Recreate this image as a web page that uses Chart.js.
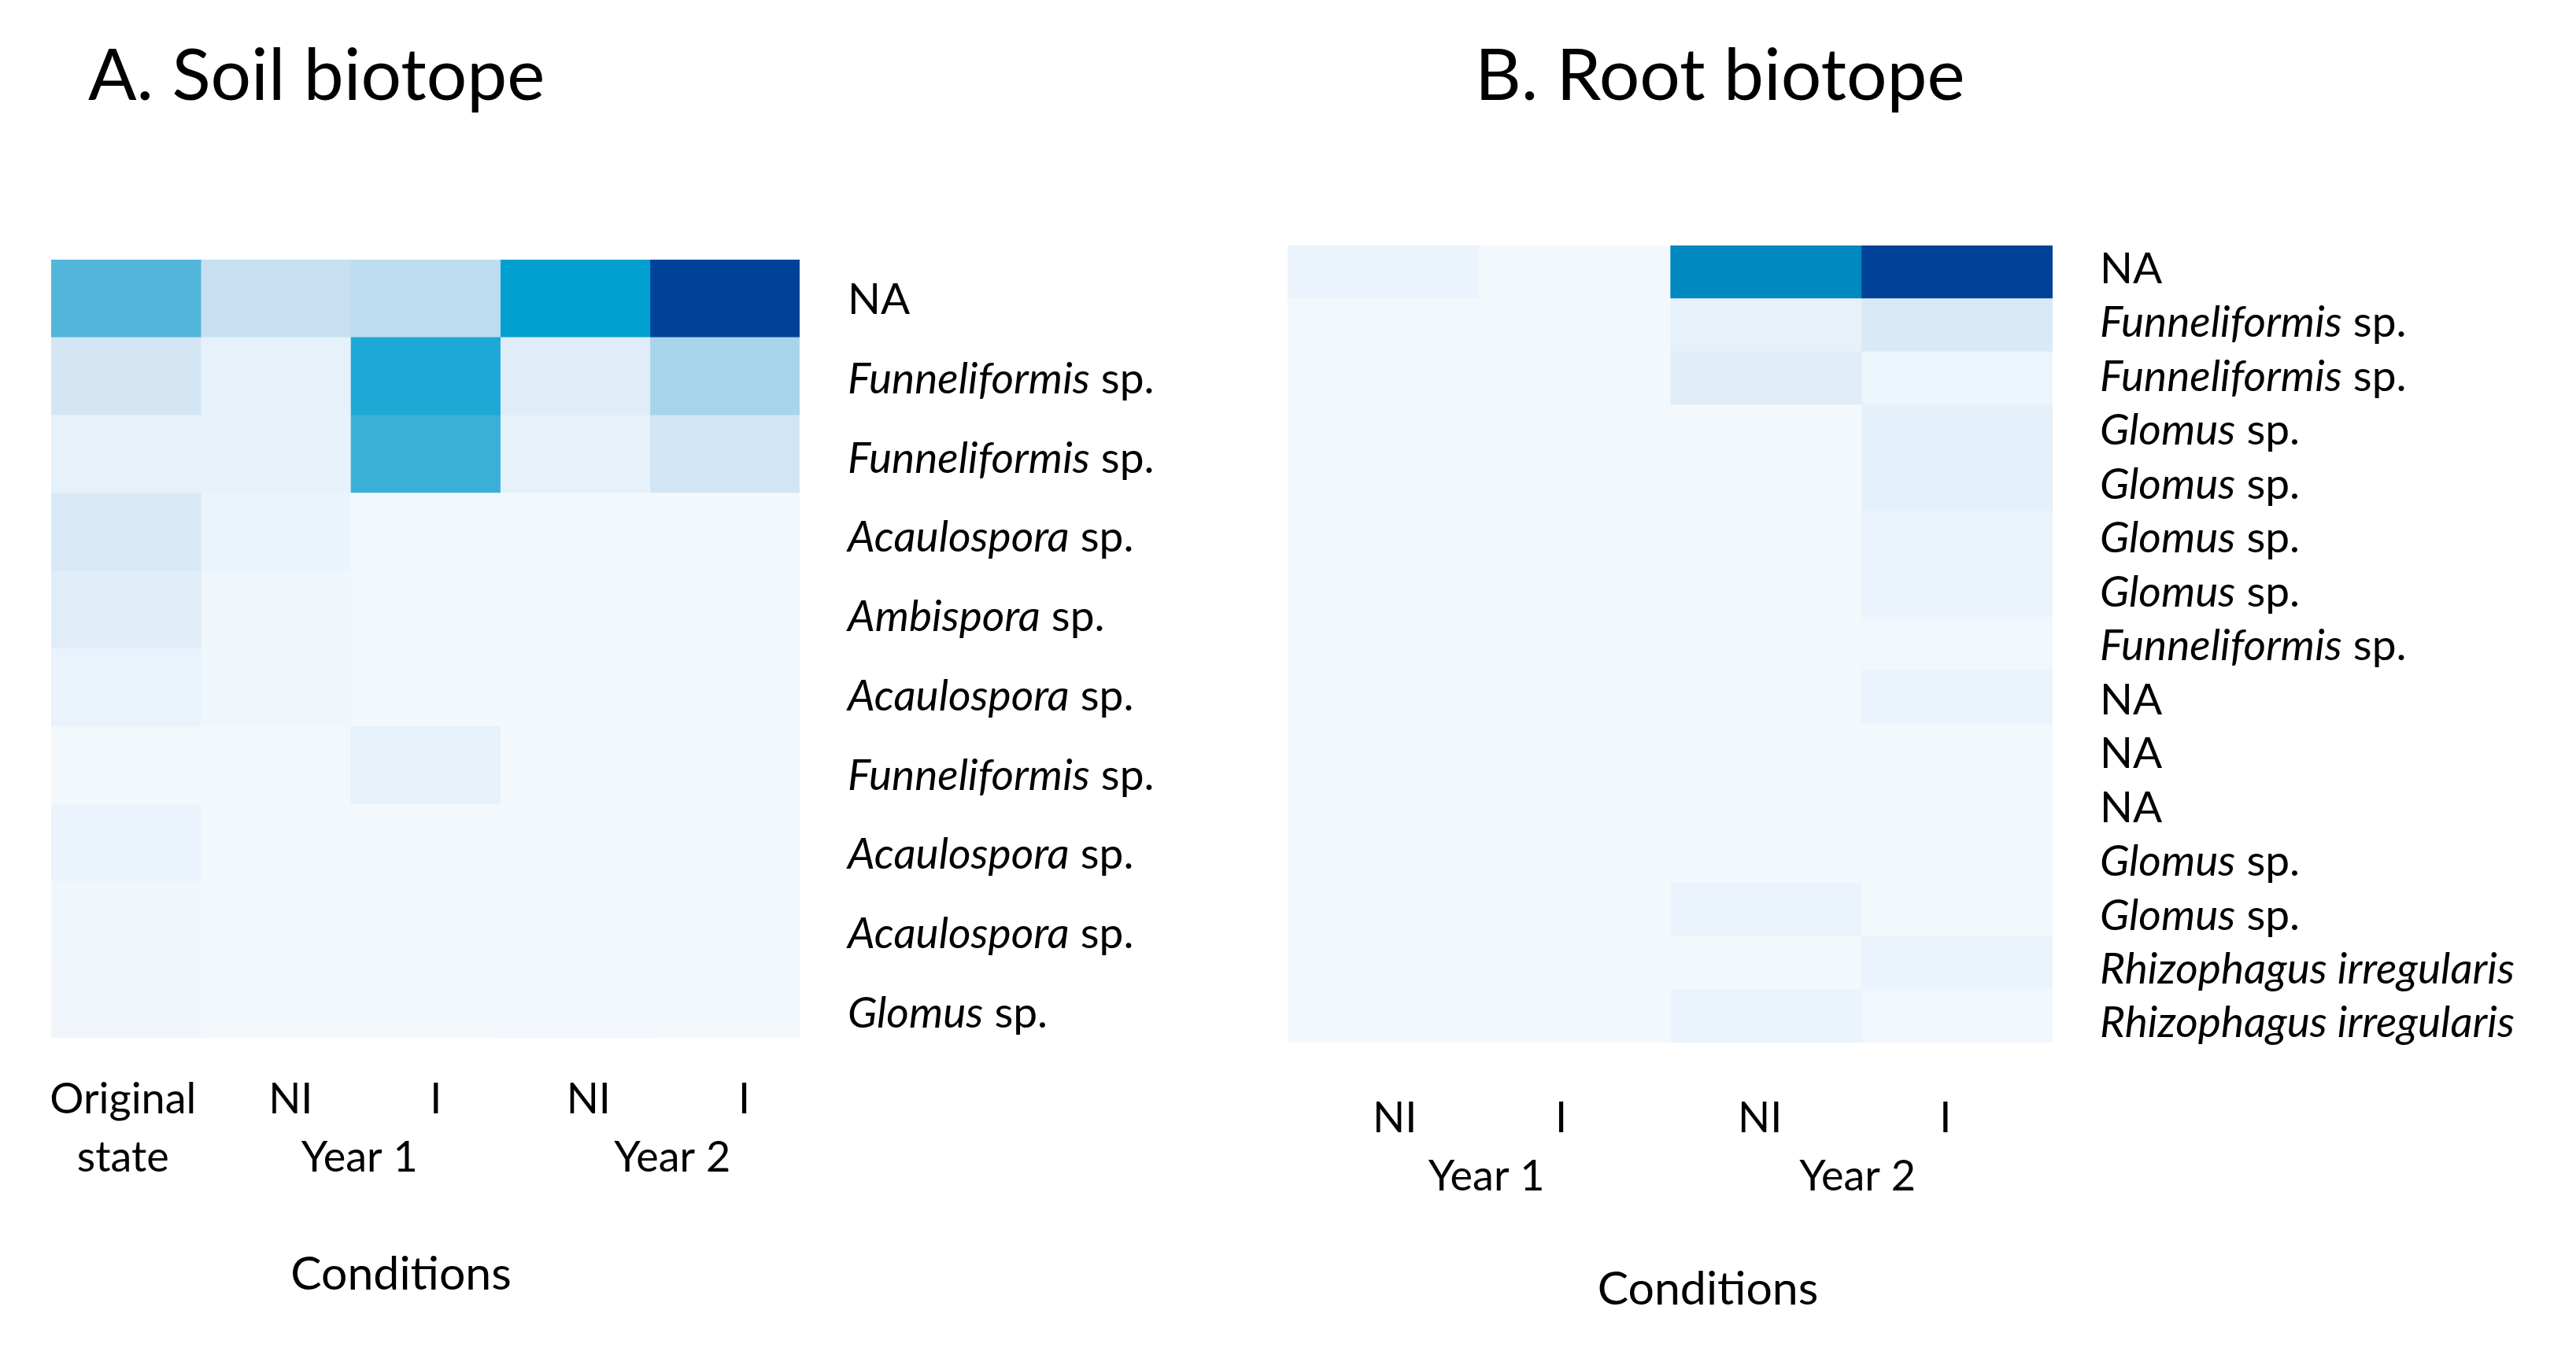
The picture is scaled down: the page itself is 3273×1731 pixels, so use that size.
<!DOCTYPE html>
<html lang="en">
  <head>
    <meta charset="UTF-8" />
    <title>Soil and root biotope heatmaps</title>
    <style>
      * {
        border: none;
        padding: 0px;
        margin: 0px;
        box-sizing: border-box;
      }

      body {
        width: 3273px;
        height: 1731px;
        background: #fff;
        position: relative;
        overflow: hidden;
        font-family: Lato, sans-serif;
      }

      .painel {
        position: absolute;
        top: 0px;
        height: 1731px;
      }

      #painelA { left: 0px; width: 1600px; }
      #painelB { left: 1600px; width: 1673px; }

      .titulo {
        position: absolute;
        top: 46px;
        font-size: 91px;
        line-height: 1;
        color: #000;
        white-space: nowrap;
      }
    </style>
  </head>
  <body>
    <div class="titulo" style="left: 112px;">A. Soil biotope</div>
    <div class="titulo" style="left: 1874px;">B. Root biotope</div>

    <div class="painel" id="painelA"><canvas id="soloChart"></canvas></div>
    <div class="painel" id="painelB"><canvas id="raizChart"></canvas></div>

    <script src="https://cdn.jsdelivr.net/npm/chart.js"></script>
    <script>
      // ---- data ----
      const soilTaxa = ['NA', 'Funneliformis sp.', 'Funneliformis sp.', 'Acaulospora sp.', 'Ambispora sp.',
        'Acaulospora sp.', 'Funneliformis sp.', 'Acaulospora sp.', 'Acaulospora sp.', 'Glomus sp.']
      const soilConditions = ['Original state', 'Year 1 NI', 'Year 1 I', 'Year 2 NI', 'Year 2 I']
      // relative abundance (0-1), one row per taxon, one column per condition
      const soilValues = [
        [0.55, 0.25, 0.31, 0.74, 1.00],
        [0.18, 0.09, 0.68, 0.12, 0.40],
        [0.09, 0.09, 0.60, 0.09, 0.19],
        [0.16, 0.06, 0.02, 0.01, 0.01],
        [0.12, 0.04, 0.01, 0.01, 0.01],
        [0.07, 0.04, 0.01, 0.01, 0.01],
        [0.01, 0.01, 0.09, 0.01, 0.01],
        [0.06, 0.01, 0.01, 0.01, 0.01],
        [0.04, 0.01, 0.01, 0.01, 0.01],
        [0.03, 0.01, 0.01, 0.02, 0.01]
      ]
      const soilTickLabels = [['Original', 'state'], 'NI', ['', 'Year 1'], 'I', 'NI', ['', 'Year 2'], 'I']

      const rootTaxa = ['NA', 'Funneliformis sp.', 'Funneliformis sp.', 'Glomus sp.', 'Glomus sp.', 'Glomus sp.',
        'Glomus sp.', 'Funneliformis sp.', 'NA', 'NA', 'NA', 'Glomus sp.', 'Glomus sp.',
        'Rhizophagus irregularis', 'Rhizophagus irregularis']
      const rootConditions = ['Year 1 NI', 'Year 1 I', 'Year 2 NI', 'Year 2 I']
      const rootValues = [
        [0.06, 0.01, 0.82, 1.00],
        [0.01, 0.01, 0.09, 0.15],
        [0.01, 0.01, 0.12, 0.05],
        [0.01, 0.01, 0.01, 0.10],
        [0.01, 0.01, 0.01, 0.10],
        [0.01, 0.01, 0.01, 0.06],
        [0.01, 0.01, 0.01, 0.06],
        [0.01, 0.01, 0.01, 0.02],
        [0.01, 0.01, 0.01, 0.06],
        [0.01, 0.01, 0.01, 0.01],
        [0.01, 0.01, 0.01, 0.01],
        [0.01, 0.01, 0.01, 0.01],
        [0.01, 0.01, 0.06, 0.01],
        [0.01, 0.01, 0.01, 0.06],
        [0.01, 0.01, 0.06, 0.02]
      ]
      const rootTickLabels = ['NI', ['', 'Year 1'], 'I', 'NI', ['', 'Year 2'], 'I']

      const axisTitle = 'Conditions'

      // ---- colour scale ----
      const rampa = [
        [0.00, '#f5f9fd'], [0.08, '#e8f2fb'], [0.16, '#d8e8f5'], [0.26, '#c5dff1'],
        [0.32, '#bcdbef'], [0.40, '#a8d4ea'], [0.55, '#52b6da'], [0.62, '#30acd7'],
        [0.68, '#1ea8d5'], [0.74, '#00a0d0'], [0.82, '#0088c0'], [1.00, '#00429a']
      ]

      const hexRgb = h => [1, 3, 5].map(i => parseInt(h.slice(i, i + 2), 16))

      function corDoValor(v) {
        for (let i = 1; i < rampa.length; i++) {
          if (v <= rampa[i][0]) {
            const [v0, c0] = rampa[i - 1]
            const [v1, c1] = rampa[i]
            const t = (v - v0) / (v1 - v0)
            const a = hexRgb(c0), b = hexRgb(c1)
            const rgb = a.map((x, k) => Math.round(x + (b[k] - x) * t))
            return 'rgb(' + rgb.join(',') + ')'
          }
        }
        return rampa[rampa.length - 1][1]
      }

      // taxon names on the right (genus italic, "sp." and NA upright) + axis title
      const rotulosTaxa = {
        id: 'rotulosTaxa',
        afterDraw(chart, args, opts) {
          const ctx = chart.ctx
          const eixoY = chart.scales.y
          const area = chart.chartArea
          const x0 = area.right + opts.gap
          const y0 = eixoY.getPixelForValue(0)
          ctx.save()
          ctx.fillStyle = '#000'
          ctx.textBaseline = 'alphabetic'
          chart.data.labels.forEach((txt, i) => {
            // labels are spaced a little wider than the rows in the original
            const y = y0 + (eixoY.getPixelForValue(i) - y0) * opts.esticar + opts.desloc
            let partes
            if (txt === 'NA') partes = [[txt, false]]
            else if (txt.endsWith(' sp.')) partes = [[txt.slice(0, -4), true], [' sp.', false]]
            else partes = [[txt, true]]
            let x = x0
            partes.forEach(([t, italico]) => {
              ctx.font = (italico ? 'italic ' : '') + opts.size + 'px Lato'
              ctx.fillText(t, x, y)
              x += ctx.measureText(t).width
            })
          })

          ctx.font = opts.tituloSize + 'px Lato'
          ctx.textAlign = 'center'
          ctx.textBaseline = 'middle'
          ctx.fillText(axisTitle, (area.left + area.right) / 2 + opts.tituloDx, opts.tituloY)
          ctx.restore()
        }
      }

      function heatmap(id, taxa, valores, rotulosX, cfg) {
        const nCols = valores[0].length
        const datasets = []
        for (let c = 0; c < nCols; c++) {
          datasets.push({
            data: taxa.map(() => [c, c + 1]),
            backgroundColor: valores.map(linha => corDoValor(linha[c])),
            borderWidth: 0,
            barPercentage: 1,
            categoryPercentage: 1,
            grouped: false
          })
        }

        return new Chart(document.getElementById(id), {
          type: 'bar',
          data: { labels: taxa, datasets: datasets },
          options: {
            indexAxis: 'y',
            responsive: true,
            maintainAspectRatio: false,
            animation: false,
            layout: { padding: cfg.padding },
            plugins: {
              legend: { display: false },
              tooltip: { enabled: false },
              rotulosTaxa: {
                gap: cfg.gap,
                size: 55,
                desloc: 20 + cfg.rotuloDy,
                esticar: cfg.esticar,
                tituloSize: 59,
                tituloDx: cfg.tituloDx,
                tituloY: cfg.tituloY
              }
            },
            scales: {
              y: { type: 'category', display: false },
              x: {
                type: 'linear',
                min: 0,
                max: nCols,
                grid: { display: false, drawTicks: false },
                border: { display: false },
                afterBuildTicks: ax => { ax.ticks = cfg.ticksX.map(v => ({ value: v })) },
                afterFit: ax => {
                  ax.height = cfg.alturaEixo
                  ax.paddingLeft = 0
                  ax.paddingRight = 0
                },
                ticks: {
                  autoSkip: false,
                  maxRotation: 0,
                  padding: cfg.tickPad,
                  color: '#000',
                  font: { family: 'Lato', size: 54, lineHeight: 1.37 },
                  callback: (v, i) => rotulosX[i]
                },
                title: { display: false }
              }
            }
          },
          plugins: [rotulosTaxa]
        })
      }

      const desenhar = () => {
        heatmap('soloChart', soilTaxa, soilValues, soilTickLabels, {
          padding: { left: 65, right: 584, top: 330, bottom: 0 },
          ticksX: [0.48, 1.6, 2.06, 2.57, 3.59, 4.15, 4.63],
          alturaEixo: 412,
          tickPad: 42,
          gap: 61,
          esticar: 1.018,
          rotuloDy: 0,
          tituloDx: -31,
          tituloY: 1620
        })
        heatmap('raizChart', rootTaxa, rootValues, rootTickLabels, {
          padding: { left: 36, right: 665, top: 312, bottom: 0 },
          ticksX: [0.56, 1.04, 1.43, 2.47, 2.98, 3.44],
          alturaEixo: 406,
          tickPad: 60,
          gap: 60,
          esticar: 1.014,
          rotuloDy: -6,
          tituloDx: 48,
          tituloY: 1639
        })
      }

      Promise.all([
        document.fonts.load('50px Lato'),
        document.fonts.load('italic 50px Lato')
      ]).then(desenhar).catch(desenhar)
    </script>
  </body>
</html>
